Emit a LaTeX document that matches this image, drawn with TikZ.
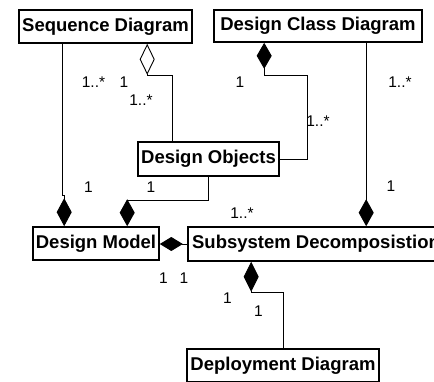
\documentclass[tikz,border=0pt]{standalone}
\usepackage{fontspec}
\setmainfont{Liberation Sans}
\usetikzlibrary{arrows.meta,calc}

\begin{document}
\begin{tikzpicture}[x=1pt,y=-1pt,
  box/.style={draw, line width=1.6pt, inner sep=0pt,
    font=\bfseries\fontsize{18.5}{22}\selectfont,
    text height=13.5pt, text depth=3.9pt},
  link/.style={draw, line width=0.9pt},
  comp/.style={-{Diamond[length=#1,width=15pt]}},
  comp/.default=28pt,
  aggr/.style={-{Diamond[open,length=#1,width=15pt]}},
  aggr/.default=30pt,
  mult/.style={inner sep=0pt, font=\fontsize{15.5}{18}\selectfont},
]
\useasboundingbox (0,0) rectangle (434,381);
\clip (0,0) rectangle (434,381);

% classes
\node[box, minimum width=173pt, minimum height=33pt] (sd)  at (105.5,26.5) {Sequence Diagram};
\node[box, minimum width=208pt, minimum height=32pt] (dcd) at (318,26)     {Design Class Diagram};
\node[box, minimum width=141pt, minimum height=34pt] (do)  at (208.5,159)  {Design Objects};
\node[box, minimum width=126pt, minimum height=33pt] (dm)  at (96,243.5)   {Design Model};
\node[box, minimum width=256pt, minimum height=34pt] (ss)  at (316,244)    {Subsystem Decomposistion};
\node[box, minimum width=192pt, minimum height=33pt] (dep) at (283,365.5)  {Deployment Diagram};

% associations
\draw[link, comp] ($(sd.south west)+(44,0)$) -- ++(0,152) -- ++(2,0) -- ($(dm.north west)+(32,0)$);
\draw[link, aggr=31pt] ($(do.north west)+(35,0)$) |- ($(sd.south west)+(129,32)$) -- ($(sd.south west)+(129,0)$);
\draw[link, comp=27pt] (do.south) -- ++(0,24) -| ($(dm.north west)+(95,0)$);
\draw[link, comp=26pt] (do.east) -- ++(28,0) |- ($(dcd.south west)+(51,33)$) -- ($(dcd.south west)+(51,0)$);
\draw[link, comp=27pt] ($(dcd.south west)+(153,0)$) -- ($(ss.north west)+(179,0)$);
\draw[link, -{Diamond[length=23pt,width=14pt]}] (ss.west) -- (ss.west -| dm.east);
\draw[link, comp=30pt] (dep.north) -- ++(0,-56) -| ($(ss.south west)+(64,0)$);

% multiplicities
\node[mult] (m1)  at (93.5,82.5)  {1..*};
\node[mult] (m2)  at (124,82.5)   {1};
\node[mult] (m3)  at (141,100.5)  {1..*};
\node[mult] (m4)  at (240,82.5)   {1};
\node[mult] (m5)  at (400,82.5)   {1..*};
\node[mult] (m6)  at (318,121)    {1..*};
\node[mult] (m7)  at (391,186.5)  {1};
\node[mult] (m8)  at (242,213.5)  {1..*};
\node[mult] (m9)  at (88.5,187)   {1};
\node[mult] (m10) at (151,187)    {1};
\node[mult] (m11) at (163.5,278)  {1};
\node[mult] (m12) at (184,278)    {1};
\node[mult] (m13) at (227.5,298.5){1};
\node[mult] (m14) at (258.5,311)  {1};
\end{tikzpicture}
\end{document}
